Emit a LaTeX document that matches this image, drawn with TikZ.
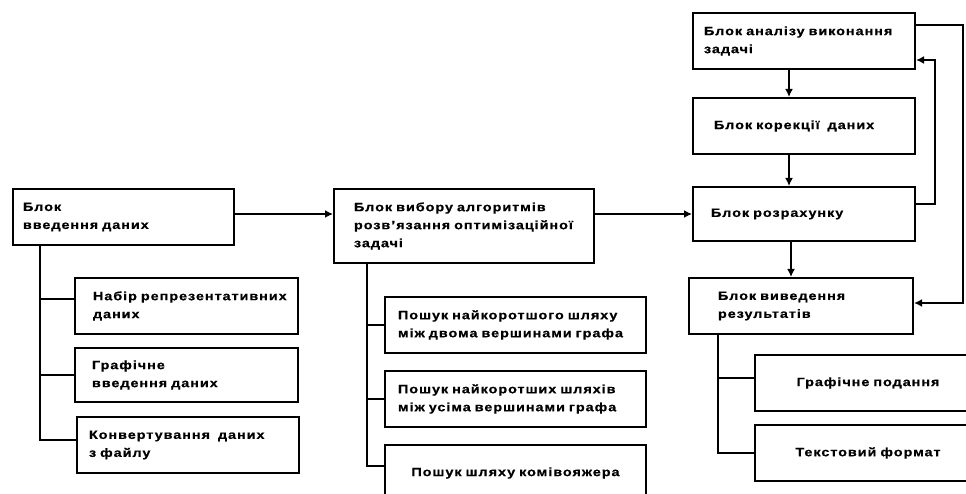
\documentclass[tikz,border=0pt]{standalone}
\usepackage{fontspec}
\setmainfont{Liberation Sans}[LetterSpace=8,FakeStretch=1.2,FakeBold=0.6]
\usetikzlibrary{arrows.meta,positioning}

\begin{document}
\begin{tikzpicture}[x=1pt,y=-1pt,font=\fontsize{12}{18}\selectfont\bfseries,every path/.style={line width=2pt},>={Latex[length=8pt,width=8pt]},
	blk/.style={draw,rectangle,anchor=north west,align=left,inner xsep=0pt,inner ysep=0pt,minimum height=56pt},
	pad/.style={execute at begin node={\leftskip=#1pt}}]
	\useasboundingbox (0,0) rectangle (966,494);

	\node[blk,text width=221pt,pad=10] (vvod) at (12,188) {Блок\\введення даних};
	\node[blk,text width=223pt,pad=18] (nabir) at (74,277) {Набір репрезентативних\\даних};
	\node[blk,text width=223pt,pad=17,minimum height=54pt] (graf) at (74,347) {Графічне\\введення даних};
	\node[blk,text width=222pt,pad=12] (konv) at (76,416) {Конвертування\ \ даних\\з файлу};

	\node[blk,text width=260pt,pad=20,minimum height=74pt] (vybir) at (333,188) {\makebox[220pt][s]{Блок вибору алгоритмів}\\\makebox[220pt][s]{розв'язання оптимізаційної}\\задачі};
	\node[blk,text width=261pt,pad=13] (shl1) at (384,296) {Пошук найкоротшого шляху\\між двома вершинами графа};
	\node[blk,text width=261pt,pad=13] (shl2) at (384,370) {Пошук найкоротших шляхів\\між усіма вершинами графа};
	\node[blk,text width=261pt,align=center] (komi) at (384,444) {Пошук шляху комівояжера};

	\node[blk,text width=222pt,pad=11] (analiz) at (692,12) {Блок аналізу виконання\\задачі};
	\node[blk,text width=222pt,pad=21] (korek) at (692,97) {Блок корекції\ \ даних};
	\node[blk,text width=222pt,pad=18,minimum height=54pt] (rozrah) at (692,186) {Блок розрахунку};
	\node[blk,text width=224pt,pad=29] (rezult) at (688,277) {Блок виведення\\результатів};
	\node[blk,text width=226pt,align=center] (gpod) at (754,354) {Графічне подання};
	\node[blk,text width=226pt,align=center] (tfor) at (754,424) {Текстовий формат};

	% main flow
	\draw[->] ([yshift=3pt]vvod.east) -- ([yshift=3pt]vvod.east -| vybir.west);
	\draw[->] (rozrah.west -| vybir.east) -- (rozrah.west);
	\draw[->] ([xshift=-15pt]analiz.south) -- ([xshift=-15pt]korek.north);
	\draw[->] ([xshift=-15pt]korek.south) -- ([xshift=-15pt]rozrah.north);
	\draw[->] ([xshift=-13pt]rozrah.south) -- ([xshift=-13pt]rozrah.south |- rezult.north);

	% feedback loops
	\draw[->] ([yshift=10pt]rozrah.east) -- ++(19,0) |- ([yshift=-19pt]analiz.east);
	\draw[->] ([yshift=16pt]analiz.east) -- ++(47,0) |- ([yshift=3pt]rezult.east);

	% branches
	\draw (vvod.south west) ++(28,0) coordinate (tr1) |- ([yshift=5pt]konv.west);
	\draw ([yshift=7pt]nabir.west) -- ([yshift=7pt]nabir.west -| tr1);
	\draw (graf.west) -- (graf.west -| tr1);

	\draw (vybir.south west) ++(34,0) coordinate (tr2) |- ([yshift=7pt]komi.west);
	\draw (shl1.west) -- (shl1.west -| tr2);
	\draw (shl2.west) -- (shl2.west -| tr2);

	\draw (rezult.south west) ++(30,0) coordinate (tr3) |- (tfor.west);
	\draw ([yshift=5pt]gpod.west) -- ([yshift=5pt]gpod.west -| tr3);
\end{tikzpicture}
\end{document}
